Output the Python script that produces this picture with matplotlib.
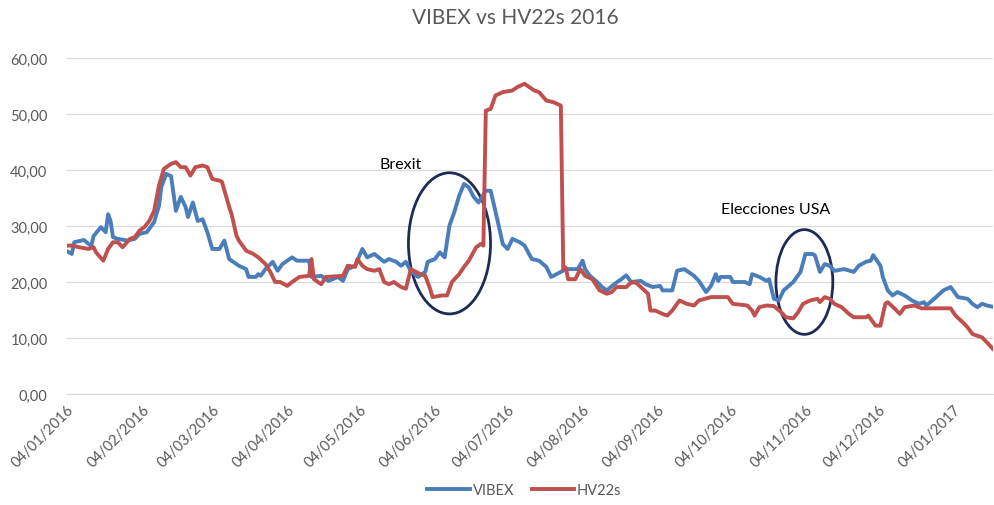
import matplotlib
matplotlib.use("Agg")
import matplotlib.pyplot as plt
import matplotlib.dates as mdates
from matplotlib.patches import Ellipse
from matplotlib.ticker import FuncFormatter, MultipleLocator
import pandas as pd

# VIBEX (implied vol)
vibex_dates = [
    "2016-01-04", "2016-01-06", "2016-01-07", "2016-01-11", "2016-01-14", "2016-01-15",
    "2016-01-18", "2016-01-20", "2016-01-21", "2016-01-22", "2016-01-23", "2016-01-25",
    "2016-01-29", "2016-02-01", "2016-02-03", "2016-02-06", "2016-02-09", "2016-02-11",
    "2016-02-12", "2016-02-14", "2016-02-16", "2016-02-18", "2016-02-20", "2016-02-22",
    "2016-02-23", "2016-02-25", "2016-02-27", "2016-02-29", "2016-03-02", "2016-03-04",
    "2016-03-07", "2016-03-09", "2016-03-11", "2016-03-15", "2016-03-18", "2016-03-19",
    "2016-03-22", "2016-03-23", "2016-03-24", "2016-03-26", "2016-03-29", "2016-03-31",
    "2016-04-02", "2016-04-06", "2016-04-08", "2016-04-13", "2016-04-14", "2016-04-18",
    "2016-04-21", "2016-04-25", "2016-04-27", "2016-04-29", "2016-05-02", "2016-05-05",
    "2016-05-07", "2016-05-10", "2016-05-14", "2016-05-16", "2016-05-19", "2016-05-21",
    "2016-05-23", "2016-05-25", "2016-05-28", "2016-05-31", "2016-06-01", "2016-06-04",
    "2016-06-06", "2016-06-08", "2016-06-10", "2016-06-12", "2016-06-14", "2016-06-16",
    "2016-06-18", "2016-06-20", "2016-06-22", "2016-06-25", "2016-06-27", "2016-06-30",
    "2016-07-02", "2016-07-04", "2016-07-06", "2016-07-09", "2016-07-11", "2016-07-14",
    "2016-07-17", "2016-07-20", "2016-07-22", "2016-07-26", "2016-07-28", "2016-08-02",
    "2016-08-04", "2016-08-05", "2016-08-07", "2016-08-10", "2016-08-12", "2016-08-14",
    "2016-08-17", "2016-08-20", "2016-08-22", "2016-08-24", "2016-08-28", "2016-08-30",
    "2016-09-02", "2016-09-05", "2016-09-06", "2016-09-10", "2016-09-12", "2016-09-15",
    "2016-09-19", "2016-09-21", "2016-09-24", "2016-09-26", "2016-09-28", "2016-09-29",
    "2016-09-30", "2016-10-04", "2016-10-05", "2016-10-10", "2016-10-12", "2016-10-13",
    "2016-10-16", "2016-10-19", "2016-10-20", "2016-10-22", "2016-10-24", "2016-10-26",
    "2016-10-30", "2016-11-02", "2016-11-04", "2016-11-07", "2016-11-08", "2016-11-10",
    "2016-11-12", "2016-11-14", "2016-11-16", "2016-11-20", "2016-11-24", "2016-11-26",
    "2016-11-29", "2016-12-01", "2016-12-02", "2016-12-05", "2016-12-06", "2016-12-08",
    "2016-12-10", "2016-12-12", "2016-12-15", "2016-12-18", "2016-12-21", "2016-12-23",
    "2016-12-24", "2016-12-28", "2016-12-31", "2017-01-03", "2017-01-06", "2017-01-10",
    "2017-01-12", "2017-01-14", "2017-01-16", "2017-01-18", "2017-01-21",
]
vibex = [
    25.5, 25.0, 27.1, 27.5, 26.4, 28.2,
    29.8, 28.9, 32.1, 30.9, 28.0, 27.7,
    27.4, 27.7, 28.6, 28.9, 30.7, 33.6,
    37.0, 39.3, 38.9, 32.7, 35.2, 33.4,
    31.6, 34.2, 30.9, 31.2, 28.9, 25.9,
    25.9, 27.4, 24.1, 22.9, 22.3, 20.9,
    20.9, 21.4, 21.1, 22.3, 23.6, 22.0,
    23.2, 24.4, 23.8, 23.8, 20.9, 21.1,
    20.2, 20.9, 20.2, 22.3, 22.9, 25.9,
    24.4, 25.0, 23.6, 24.1, 23.6, 22.9,
    23.6, 22.0, 20.9, 21.8, 23.6, 24.1,
    25.3, 24.4, 30.1, 32.5, 35.4, 37.5,
    36.9, 35.2, 34.2, 36.3, 36.3, 30.7,
    26.8, 25.9, 27.7, 27.1, 26.5, 24.1,
    23.8, 22.7, 20.9, 21.8, 22.3, 22.3,
    23.8, 22.3, 21.1, 20.0, 19.1, 18.5,
    19.6, 20.5, 21.2, 20.0, 20.2, 19.6,
    19.1, 19.3, 18.5, 18.5, 22.0, 22.3,
    21.1, 20.2, 18.2, 19.3, 21.4, 20.2,
    20.9, 20.9, 20.0, 20.0, 19.6, 21.4,
    20.9, 20.2, 20.5, 17.0, 16.7, 18.5,
    20.0, 21.8, 25.0, 25.0, 24.7, 21.8,
    23.2, 22.9, 22.0, 22.3, 21.8, 22.9,
    23.6, 23.8, 24.8, 22.9, 20.9, 18.5,
    17.6, 18.2, 17.6, 16.7, 16.1, 16.4,
    15.8, 17.3, 18.5, 19.1, 17.3, 17.0,
    16.1, 15.5, 16.1, 15.8, 15.5,
]

# HV22s (22-session historical vol)
hv22_dates = [
    "2016-01-04", "2016-01-06", "2016-01-09", "2016-01-13", "2016-01-15", "2016-01-16",
    "2016-01-19", "2016-01-21", "2016-01-23", "2016-01-25", "2016-01-27", "2016-01-30",
    "2016-02-01", "2016-02-03", "2016-02-05", "2016-02-07", "2016-02-09", "2016-02-11",
    "2016-02-13", "2016-02-16", "2016-02-18", "2016-02-20", "2016-02-22", "2016-02-24",
    "2016-02-26", "2016-02-29", "2016-03-02", "2016-03-04", "2016-03-07", "2016-03-08",
    "2016-03-11", "2016-03-12", "2016-03-14", "2016-03-15", "2016-03-18", "2016-03-21",
    "2016-03-23", "2016-03-26", "2016-03-28", "2016-03-30", "2016-04-01", "2016-04-04",
    "2016-04-06", "2016-04-09", "2016-04-13", "2016-04-14", "2016-04-15", "2016-04-18",
    "2016-04-20", "2016-04-27", "2016-04-29", "2016-05-02", "2016-05-03", "2016-05-05",
    "2016-05-07", "2016-05-10", "2016-05-12", "2016-05-14", "2016-05-16", "2016-05-18",
    "2016-05-21", "2016-05-23", "2016-05-25", "2016-05-29", "2016-05-31", "2016-06-02",
    "2016-06-03", "2016-06-07", "2016-06-09", "2016-06-11", "2016-06-14", "2016-06-16",
    "2016-06-18", "2016-06-21", "2016-06-23", "2016-06-24", "2016-06-25", "2016-06-27",
    "2016-06-29", "2016-07-02", "2016-07-06", "2016-07-08", "2016-07-11", "2016-07-13",
    "2016-07-15", "2016-07-17", "2016-07-20", "2016-07-23", "2016-07-26", "2016-07-27",
    "2016-07-28", "2016-07-29", "2016-08-01", "2016-08-03", "2016-08-05", "2016-08-08",
    "2016-08-11", "2016-08-14", "2016-08-16", "2016-08-18", "2016-08-22", "2016-08-24",
    "2016-08-26", "2016-08-28", "2016-08-31", "2016-09-01", "2016-09-03", "2016-09-06",
    "2016-09-08", "2016-09-10", "2016-09-13", "2016-09-16", "2016-09-19", "2016-09-21",
    "2016-09-26", "2016-10-03", "2016-10-05", "2016-10-11", "2016-10-13", "2016-10-14",
    "2016-10-16", "2016-10-19", "2016-10-22", "2016-10-25", "2016-10-27", "2016-10-30",
    "2016-11-01", "2016-11-03", "2016-11-06", "2016-11-09", "2016-11-10", "2016-11-12",
    "2016-11-14", "2016-11-16", "2016-11-19", "2016-11-22", "2016-11-24", "2016-11-29",
    "2016-11-30", "2016-12-03", "2016-12-05", "2016-12-07", "2016-12-08", "2016-12-11",
    "2016-12-13", "2016-12-15", "2016-12-19", "2016-12-22", "2017-01-03", "2017-01-05",
    "2017-01-08", "2017-01-10", "2017-01-12", "2017-01-16", "2017-01-18", "2017-01-21",
]
hv22 = [
    26.5, 26.5, 26.2, 25.9, 26.2, 25.3,
    23.8, 25.9, 27.1, 27.1, 26.2, 27.7,
    28.0, 29.2, 29.8, 30.9, 32.7, 37.2,
    40.2, 41.1, 41.4, 40.5, 40.5, 39.0,
    40.5, 40.8, 40.5, 38.4, 38.1, 37.9,
    33.4, 32.1, 28.3, 27.4, 25.6, 25.0,
    24.4, 23.2, 21.8, 20.0, 20.0, 19.3,
    20.0, 20.9, 21.1, 24.1, 20.5, 19.6,
    20.9, 21.1, 22.9, 22.7, 24.1, 22.9,
    22.3, 22.0, 22.3, 20.0, 19.6, 20.0,
    19.1, 18.8, 22.3, 21.4, 21.1, 18.8,
    17.3, 17.6, 17.6, 20.0, 21.4, 22.7,
    23.8, 26.2, 26.8, 26.5, 50.6, 50.9,
    53.3, 53.9, 54.2, 54.8, 55.4, 54.8,
    54.2, 53.9, 52.4, 52.1, 51.5, 22.3,
    22.6, 20.5, 20.5, 22.3, 21.1, 20.5,
    18.5, 17.9, 18.2, 19.1, 19.1, 19.9,
    19.9, 19.1, 17.9, 14.9, 14.9, 14.3,
    14.0, 14.9, 16.7, 16.1, 15.8, 16.7,
    17.3, 17.3, 16.1, 15.8, 14.9, 14.0,
    15.5, 15.8, 15.7, 14.6, 13.7, 13.5,
    14.6, 16.1, 16.7, 17.0, 16.4, 17.3,
    17.0, 16.1, 15.5, 14.3, 13.7, 13.7,
    14.0, 12.2, 12.2, 16.1, 16.4, 15.2,
    14.3, 15.5, 15.8, 15.3, 15.3, 14.0,
    12.8, 11.9, 10.7, 10.1, 9.2, 7.8,
]

tick_dates = pd.date_range("2016-01-04", "2017-01-04", freq=pd.DateOffset(months=1))

BLUE = "#4A7EBB"
RED = "#C0504D"
GREY = "#595959"
NAVY = "#1F2A55"

plt.rcParams['font.family'] = ['Lato', 'DejaVu Sans']

fig = plt.figure(figsize=(9.95, 5.06), dpi=100)
ax = fig.add_axes([0.0673, 0.2194, 0.9307, 0.664])

ax.plot(pd.to_datetime(vibex_dates), vibex, color=BLUE, lw=2.8, label="VIBEX", solid_joinstyle="round")
ax.plot(pd.to_datetime(hv22_dates), hv22, color=RED, lw=2.8, label="HV22s", solid_joinstyle="round")

start = pd.Timestamp("2016-01-04")
ax.set_xlim(start, start + pd.Timedelta(days=382.5))
ax.set_ylim(0, 60)
ax.yaxis.set_major_locator(MultipleLocator(10))
ax.yaxis.set_major_formatter(FuncFormatter(lambda v, p: ("%.2f" % v).replace(".", ",")))
ax.set_xticks(tick_dates)
ax.set_xticklabels([d.strftime("%d/%m/%Y") for d in tick_dates], rotation=45,
                   ha="right", rotation_mode="anchor")
ax.tick_params(axis="both", length=0, labelsize=10.5, labelcolor=GREY)
ax.tick_params(axis="y", pad=14)
ax.tick_params(axis="x", pad=6)

ax.grid(axis="y", color="#D9D9D9", lw=0.9)
ax.set_axisbelow(True)
for s in ["top", "right", "left"]:
    ax.spines[s].set_visible(False)
ax.spines["bottom"].set_color("#D9D9D9")
ax.spines["bottom"].set_linewidth(0.9)

# event annotations
brexit = Ellipse((mdates.date2num(pd.Timestamp("2016-06-10")), 26.9), 33.9, 25.2,
                 fill=False, edgecolor=NAVY, lw=2)
ax.add_patch(brexit)
usa = Ellipse((mdates.date2num(pd.Timestamp("2016-11-03 14:00")), 20.0), 23.5, 18.7,
              fill=False, edgecolor=NAVY, lw=2)
ax.add_patch(usa)
ax.text(pd.Timestamp("2016-05-12"), 41.1, "Brexit", fontsize=11.5, va="center", color="black")
ax.text(pd.Timestamp("2016-09-30"), 33.0, "Elecciones USA", fontsize=11.5, va="center", color="black")

fig.suptitle("VIBEX vs HV22s 2016", x=0.518, y=0.985, fontsize=15, color=GREY)

fig.legend(loc="lower center", ncol=2, frameon=False, bbox_to_anchor=(0.527, -0.01),
           fontsize=10.5, labelcolor=GREY, handlelength=2.9, handletextpad=0.2, columnspacing=1.2)

fig.savefig("out.png", dpi=100)
